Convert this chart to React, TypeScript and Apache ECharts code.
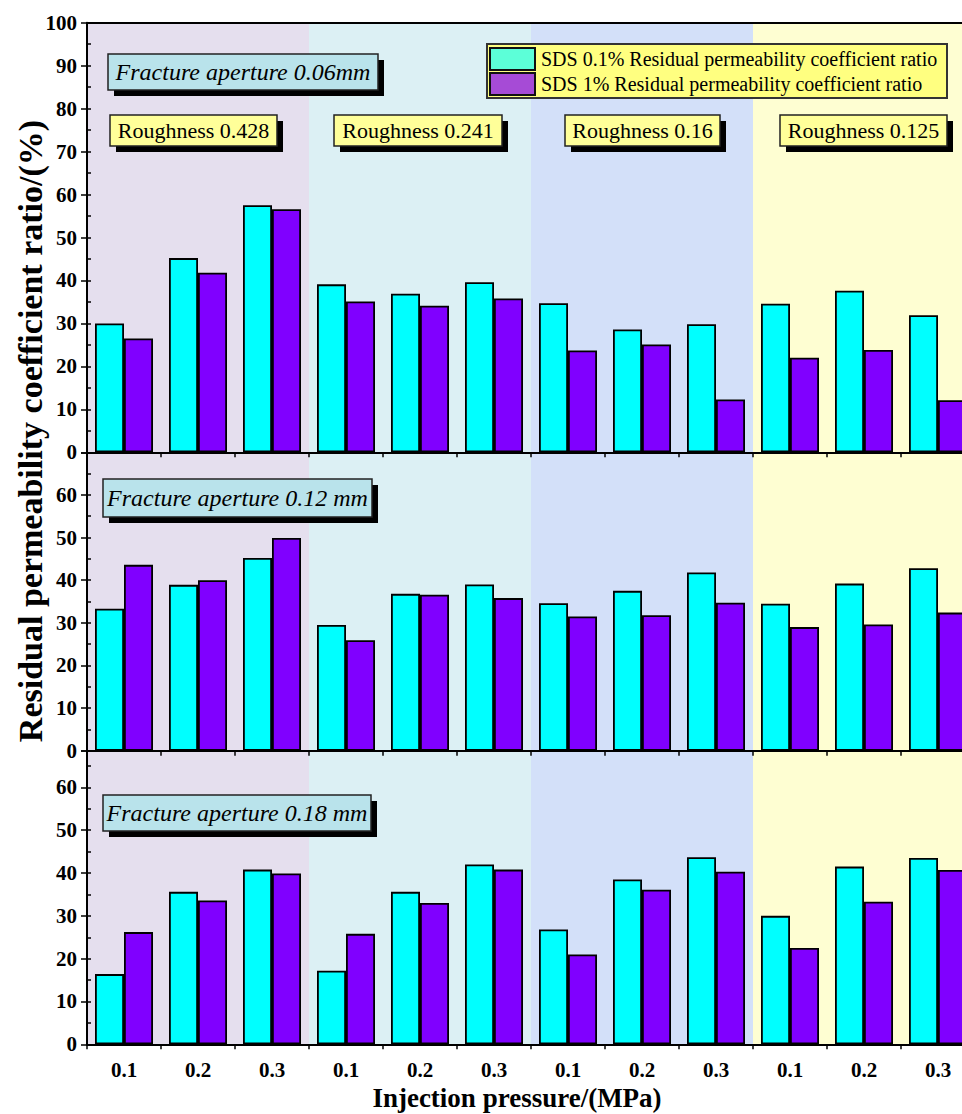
import React, { useEffect, useRef } from "react";
import * as echarts from "echarts";

// ---------- data ----------
const categories = ["0.1", "0.2", "0.3", "0.1", "0.2", "0.3", "0.1", "0.2", "0.3", "0.1", "0.2", "0.3"];
const roughnessLabels = ["Roughness 0.428", "Roughness 0.241", "Roughness 0.16", "Roughness 0.125"];
const apertureLabels = ["Fracture aperture 0.06mm", "Fracture aperture 0.12 mm", "Fracture aperture 0.18 mm"];
const seriesNames = [
  "SDS 0.1% Residual permeability coefficient ratio",
  "SDS 1% Residual permeability coefficient ratio",
];

const sds01_a006 = [30.0, 45.2, 57.5, 39.1, 36.9, 39.6, 34.7, 28.6, 29.8, 34.6, 37.6, 31.9];
const sds1_a006 = [26.5, 41.8, 56.6, 35.1, 34.1, 35.8, 23.7, 25.1, 12.3, 22.0, 23.8, 12.1];
const sds01_a012 = [33.3, 38.9, 45.2, 29.5, 36.8, 39.0, 34.6, 37.5, 41.8, 34.5, 39.2, 42.8];
const sds1_a012 = [43.6, 40.0, 49.9, 25.9, 36.6, 35.8, 31.5, 31.8, 34.7, 29.0, 29.6, 32.4];
const sds01_a018 = [16.4, 35.6, 40.8, 17.2, 35.6, 42.0, 26.8, 38.5, 43.7, 30.0, 41.5, 43.5];
const sds1_a018 = [26.2, 33.6, 39.9, 25.8, 33.0, 40.8, 21.0, 36.1, 40.3, 22.5, 33.3, 40.7];

const panelCyan = [sds01_a006, sds01_a012, sds01_a018];
const panelPurple = [sds1_a006, sds1_a012, sds1_a018];
const yMaxes = [100, 70, 68.5];
const yLabelMax = [100, 60, 60];
const bandGroups = [0, 1, 2, 3];

// ---------- styles ----------
const FONT = "Liberation Serif";
const bandColors = ["#e5dfee", "#dcf0f4", "#d3e0f9", "#fefed2"];
const barCyan = "#00ffff";
const barPurple = "#8000ff";
const legendCyan = "#5cffd8";
const legendPurple = "#a64bd6";

const gridBoxes = [
  { top: 22.7, height: 429.6 },
  { top: 452.3, height: 298.4 },
  { top: 751, height: 293.3 },
];
const PLOT_LEFT = 87;
const PLOT_WIDTH = 888;
const CHART_WIDTH = 1000;

function boxWithShadow(
  x: number, y: number, w: number, h: number, dx: number, dy: number,
  fill: string, text: string, font: { size: number; italic?: boolean }
) {
  return [
    { type: "rect", z: 100, shape: { x: x + dx, y: y + dy, width: w, height: h }, style: { fill: "#000" } },
    { type: "rect", z: 101, shape: { x, y, width: w, height: h }, style: { fill, stroke: "#222", lineWidth: 1.5 } },
    {
      type: "text", z: 102, x: x + w / 2, y: y + h / 2,
      style: {
        text, fill: "#000", fontFamily: FONT, fontSize: font.size,
        fontStyle: font.italic ? "italic" : "normal",
        align: "center", verticalAlign: "middle", textAlign: "center", textVerticalAlign: "middle",
      },
    },
  ];
}

export default function App() {
  const ref = useRef<HTMLDivElement>(null);

  useEffect(() => {
    if (!ref.current) return;
    const chart = echarts.init(ref.current, undefined, { renderer: "svg" });

    const grid = gridBoxes.map((g) => ({ left: PLOT_LEFT, width: PLOT_WIDTH, top: g.top, height: g.height }));

    const xAxis: any[] = [];
    const yAxis: any[] = [];
    const series: any[] = [];

    gridBoxes.forEach((_, i) => {
      // category axis (centres)
      xAxis.push({
        type: "category", gridIndex: i, data: categories, position: "bottom", z: 10,
        axisLine: { lineStyle: { color: "#000", width: 2 } },
        axisTick: { alignWithLabel: true, length: 5, lineStyle: { color: "#000", width: 1.5 } },
        axisLabel: {
          show: i === 2, color: "#000", fontFamily: FONT, fontWeight: "bold", fontSize: 21, margin: 15,
        },
        splitLine: { show: false },
      });
      // value axis (category boundaries, bands)
      xAxis.push({
        type: "value", gridIndex: i, min: 0, max: 12, interval: 1, position: "bottom", z: 10,
        axisLine: { show: false },
        axisTick: { show: true, length: 5, lineStyle: { color: "#000", width: 1.5 } },
        axisLabel: { show: false },
        splitLine: { show: false },
      });
      // major y axis
      yAxis.push({
        type: "value", gridIndex: i, min: 0, max: yMaxes[i], interval: 10, position: "left", z: 10,
        axisLine: { show: true, lineStyle: { color: "#000", width: 2 } },
        axisTick: { show: true, length: 6, lineStyle: { color: "#000", width: 1.5 } },
        axisLabel: {
          color: "#000", fontFamily: FONT, fontWeight: "bold", fontSize: 21, margin: 10,
          formatter: (v: number) => (v % 10 === 0 && v <= yLabelMax[i] ? String(v) : ""),
        },
        splitLine: { show: false },
      });
      // minor y axis (inward ticks)
      yAxis.push({
        type: "value", gridIndex: i, min: 0, max: yMaxes[i], interval: 5, position: "left", z: 10,
        axisLine: { show: false },
        axisTick: { show: true, inside: true, length: 4, lineStyle: { color: "#000", width: 1.5 } },
        axisLabel: { show: false },
        splitLine: { show: false },
      });

      const ymax = yMaxes[i];
      series.push({
        type: "custom", xAxisIndex: i * 2 + 1, yAxisIndex: i * 2, z: 1, silent: true,
        data: bandGroups.map((g) => [g, 0]),
        encode: { x: 0, y: 1 },
        renderItem: (_p: any, api: any) => {
          const g = api.value(0) as number;
          const p0 = api.coord([g * 3, ymax]);
          const p1 = api.coord([g * 3 + 3, 0]);
          return {
            type: "rect",
            shape: { x: p0[0], y: p0[1], width: p1[0] - p0[0], height: p1[1] - p0[1] },
            style: { fill: bandColors[g] },
          };
        },
      });
      series.push({
        type: "bar", name: seriesNames[0], xAxisIndex: i * 2, yAxisIndex: i * 2, z: 3,
        data: panelCyan[i], barWidth: 29, barGap: "0%",
        itemStyle: { color: barCyan, borderColor: "#000", borderWidth: 1.8 },
      });
      series.push({
        type: "bar", name: seriesNames[1], xAxisIndex: i * 2, yAxisIndex: i * 2, z: 3,
        data: panelPurple[i], barWidth: 29, barGap: "0%",
        itemStyle: { color: barPurple, borderColor: "#000", borderWidth: 1.8 },
      });
    });

    // top frame line of the first panel
    xAxis.push({
      type: "category", gridIndex: 0, data: categories, position: "top", z: 10,
      axisLine: { lineStyle: { color: "#000", width: 2 } },
      axisTick: { show: false }, axisLabel: { show: false }, splitLine: { show: false },
    });

    const roughBoxes = [
      { x: 110, w: 167 },
      { x: 334, w: 168 },
      { x: 565, w: 155 },
      { x: 780, w: 167 },
    ];
    const apertureBoxes = [
      { x: 108, y: 54, w: 270, h: 36 },
      { x: 103, y: 479, w: 269, h: 38 },
      { x: 103, y: 795, w: 268, h: 36 },
    ];

    const graphic: any[] = [];
    apertureBoxes.forEach((b, i) => {
      graphic.push(...boxWithShadow(b.x, b.y, b.w, b.h, 6, 6, "#b9e3eb", apertureLabels[i], { size: 24, italic: true }));
    });
    roughBoxes.forEach((b, i) => {
      graphic.push(...boxWithShadow(b.x, 115, b.w, 31, 6, 6, "#ffff99", roughnessLabels[i], { size: 22 }));
    });
    // legend
    graphic.push({
      type: "rect", z: 100, shape: { x: 487, y: 44, width: 460, height: 54 },
      style: { fill: "#ffff80", stroke: "#333", lineWidth: 2 },
    });
    [legendCyan, legendPurple].forEach((c, k) => {
      graphic.push({
        type: "rect", z: 101, shape: { x: 490, y: 48 + k * 25, width: 45, height: 22 },
        style: { fill: c, stroke: "#111", lineWidth: 2 },
      });
      graphic.push({
        type: "text", z: 102, x: 541, y: 59 + k * 25,
        style: {
          text: seriesNames[k], fill: "#000", fontFamily: FONT, fontSize: 20,
          align: "left", verticalAlign: "middle", textAlign: "left", textVerticalAlign: "middle",
        },
      });
    });
    // axis titles
    graphic.push({
      type: "text", z: 102, x: 30, y: 431, rotation: Math.PI / 2,
      style: {
        text: "Residual permeability coefficient ratio/(%)", fill: "#000", fontFamily: FONT,
        fontWeight: "bold", fontSize: 34,
        align: "center", verticalAlign: "middle", textAlign: "center", textVerticalAlign: "middle",
      },
    });
    graphic.push({
      type: "text", z: 102, x: 517, y: 1098,
      style: {
        text: "Injection pressure/(MPa)", fill: "#000", fontFamily: FONT,
        fontWeight: "bold", fontSize: 27,
        align: "center", verticalAlign: "middle", textAlign: "center", textVerticalAlign: "middle",
      },
    });

    chart.setOption({
      animation: false,
      backgroundColor: "#ffffff",
      textStyle: { fontFamily: FONT },
      grid,
      xAxis,
      yAxis,
      series,
      graphic,
    });

    return () => chart.dispose();
  }, []);

  return (
    <div style={{ position: "absolute", left: 0, top: 0, width: 962, height: 1114, overflow: "hidden", background: "#fff" }}>
      <div ref={ref} style={{ width: CHART_WIDTH, height: 1114 }} />
    </div>
  );
}
